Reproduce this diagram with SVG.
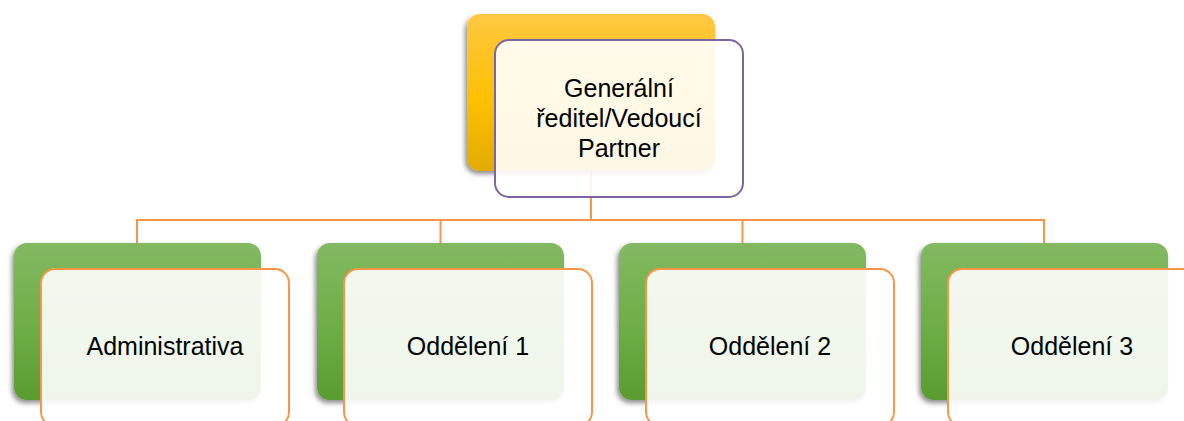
<svg xmlns="http://www.w3.org/2000/svg" width="1184" height="421" viewBox="0 0 1184 421">
<defs>
<linearGradient id="gold" x1="0" y1="0" x2="0" y2="1">
<stop offset="0" stop-color="#FFC843"/>
<stop offset="0.55" stop-color="#FFC000"/>
<stop offset="1" stop-color="#E2AB00"/>
</linearGradient>
<linearGradient id="green" x1="0" y1="0" x2="0" y2="1">
<stop offset="0" stop-color="#83B962"/>
<stop offset="0.55" stop-color="#6DAD45"/>
<stop offset="1" stop-color="#5A9B31"/>
</linearGradient>
<filter id="shadow" x="-10%" y="-10%" width="120%" height="125%">
<feDropShadow dx="-2" dy="3" stdDeviation="2.5" flood-color="#000" flood-opacity="0.45"/>
</filter>
</defs>
<style>
.conn{fill:none;stroke:#F79646;stroke-width:2}
.back-top{fill:url(#gold);filter:url(#shadow)}
.back{fill:url(#green);filter:url(#shadow)}
.front-top{fill:#FFFFFF;fill-opacity:0.9;stroke:#8064A2;stroke-width:2}
.front{fill:#FFFFFF;fill-opacity:0.9;stroke:#F79646;stroke-width:2}
.lbl{font-family:"Liberation Sans",Arial,sans-serif;font-size:25px;fill:#000;text-anchor:middle}
</style>
<rect width="1184" height="421" fill="#FFFFFF"/>
<g id="connectors">
<path class="conn" d="M591,171 V220"/>
<path class="conn" d="M137,243 V220 H1044 V243"/>
<path class="conn" d="M440.5,220 V243"/>
<path class="conn" d="M742.5,220 V243"/>
</g>
<g id="node-ceo">
<rect class="back-top" x="467" y="14" width="248" height="157" rx="13"/>
<rect class="front-top" x="495" y="40" width="248" height="157" rx="14"/>
<text class="lbl" x="619" y="97">Generální</text>
<text class="lbl" x="619" y="127">ředitel/Vedoucí</text>
<text class="lbl" x="619" y="157">Partner</text>
</g>
<g id="node-admin">
<rect class="back" x="14" y="243" width="247" height="157" rx="13"/>
<rect class="front" x="41" y="269" width="248" height="157" rx="14"/>
<text class="lbl" x="165" y="355">Administrativa</text>
</g>
<g id="node-odd1">
<rect class="back" x="317" y="243" width="247" height="157" rx="13"/>
<rect class="front" x="344" y="269" width="248" height="157" rx="14"/>
<text class="lbl" x="468" y="355">Oddělení 1</text>
</g>
<g id="node-odd2">
<rect class="back" x="619" y="243" width="247" height="157" rx="13"/>
<rect class="front" x="646" y="269" width="248" height="157" rx="14"/>
<text class="lbl" x="770" y="355">Oddělení 2</text>
</g>
<g id="node-odd3">
<rect class="back" x="921" y="243" width="247" height="157" rx="13"/>
<rect class="front" x="948" y="269" width="248" height="157" rx="14"/>
<text class="lbl" x="1072" y="355">Oddělení 3</text>
</g>
</svg>
